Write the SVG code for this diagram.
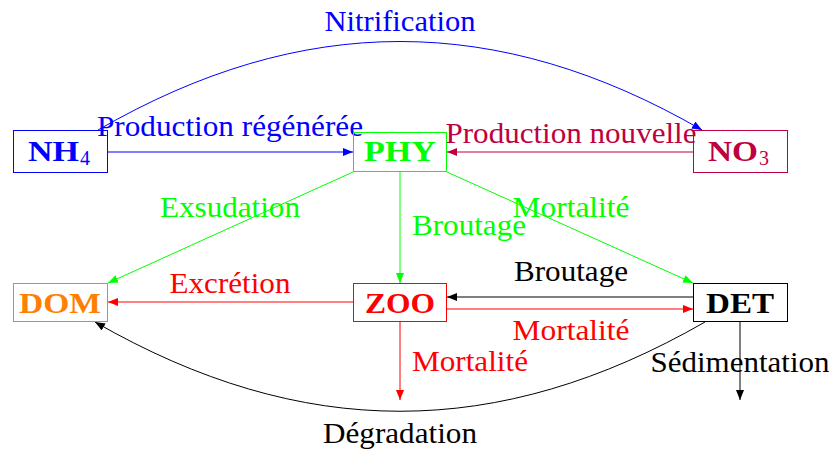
<svg xmlns="http://www.w3.org/2000/svg" width="829" height="451" viewBox="0 0 829 451">
<defs>
<style>
text{font-family:"Liberation Serif","Times New Roman",serif;font-size:29px}
.lbl{text-anchor:middle}
.nd{font-weight:bold}
.box{fill:none;stroke-width:1}
.ln{fill:none;stroke-width:1}
</style>
<marker id="aB" viewBox="0 0 10 8" refX="10" refY="4" markerWidth="10" markerHeight="8" markerUnits="userSpaceOnUse" orient="auto"><path d="M0,0L10,4L0,8z" fill="#0000FF"/></marker>
<marker id="aP" viewBox="0 0 10 8" refX="10" refY="4" markerWidth="10" markerHeight="8" markerUnits="userSpaceOnUse" orient="auto"><path d="M0,0L10,4L0,8z" fill="#BF0040"/></marker>
<marker id="aG" viewBox="0 0 10 8" refX="10" refY="4" markerWidth="10" markerHeight="8" markerUnits="userSpaceOnUse" orient="auto"><path d="M0,0L10,4L0,8z" fill="#00FF00"/></marker>
<marker id="aR" viewBox="0 0 10 8" refX="10" refY="4" markerWidth="10" markerHeight="8" markerUnits="userSpaceOnUse" orient="auto"><path d="M0,0L10,4L0,8z" fill="#FF0000"/></marker>
<marker id="aK" viewBox="0 0 10 8" refX="10" refY="4" markerWidth="10" markerHeight="8" markerUnits="userSpaceOnUse" orient="auto"><path d="M0,0L10,4L0,8z" fill="#000"/></marker>
</defs>
<rect width="829" height="451" fill="#fff"/>
<g id="connectors">
<path class="ln" stroke="#0000FF" d="M98,130C302,12 498,12 702,130" marker-end="url(#aB)"/>
<path class="ln" stroke="#0000FF" d="M108,152H353" marker-end="url(#aB)"/>
<path class="ln" stroke="#BF0040" d="M693,152H447" marker-end="url(#aP)"/>
<path class="ln" stroke="#00FF00" d="M353,172L108,283" marker-end="url(#aG)"/>
<path class="ln" stroke="#00FF00" d="M400,172V283" marker-end="url(#aG)"/>
<path class="ln" stroke="#00FF00" d="M447,172L693,283" marker-end="url(#aG)"/>
<path class="ln" stroke="#FF0000" d="M353,302H108" marker-end="url(#aR)"/>
<path class="ln" stroke="#000" d="M693,297H447" marker-end="url(#aK)"/>
<path class="ln" stroke="#FF0000" d="M447,309H693" marker-end="url(#aR)"/>
<path class="ln" stroke="#FF0000" d="M400,322V400" marker-end="url(#aR)"/>
<path class="ln" stroke="#000" d="M740,322V400" marker-end="url(#aK)"/>
<path class="ln" stroke="#000" d="M705,322C498,441 302,441 95,322" marker-end="url(#aK)"/>
<text class="lbl" x="400" y="31" fill="#0000FF" textLength="151" lengthAdjust="spacingAndGlyphs">Nitrification</text>
<text class="lbl" x="230" y="136" fill="#0000FF" textLength="266" lengthAdjust="spacingAndGlyphs">Production régénérée</text>
<text class="lbl" x="571" y="143" fill="#BF0040" textLength="251" lengthAdjust="spacingAndGlyphs">Production nouvelle</text>
<text class="lbl" x="230" y="217" fill="#00FF00" textLength="140" lengthAdjust="spacingAndGlyphs">Exsudation</text>
<text x="412" y="235" fill="#00FF00" textLength="114" lengthAdjust="spacingAndGlyphs">Broutage</text>
<text class="lbl" x="571" y="217" fill="#00FF00" textLength="117" lengthAdjust="spacingAndGlyphs">Mortalité</text>
<text class="lbl" x="230" y="293" fill="#FF0000" textLength="121" lengthAdjust="spacingAndGlyphs">Excrétion</text>
<text class="lbl" x="571" y="281" fill="#000" textLength="114" lengthAdjust="spacingAndGlyphs">Broutage</text>
<text class="lbl" x="571" y="340" fill="#FF0000" textLength="117" lengthAdjust="spacingAndGlyphs">Mortalité</text>
<text x="412" y="371" fill="#FF0000" textLength="116" lengthAdjust="spacingAndGlyphs">Mortalité</text>
<text class="lbl" x="740" y="372" fill="#000" textLength="179" lengthAdjust="spacingAndGlyphs">Sédimentation</text>
<text class="lbl" x="400" y="443" fill="#000" textLength="154" lengthAdjust="spacingAndGlyphs">Dégradation</text>
</g>
<g id="NH4">
<rect class="box" x="13.5" y="130.5" width="94" height="42" stroke="#0000FF"/>
<text class="nd" x="28" y="161" fill="#0000FF" textLength="51" lengthAdjust="spacingAndGlyphs">NH</text>
<text x="80" y="165" fill="#0000FF" style="font-size:20px">4</text>
</g>
<g id="PHY">
<rect class="box" x="353.5" y="132.5" width="93" height="39" stroke="#00FF00"/>
<text class="nd lbl" x="400" y="161" fill="#00FF00" textLength="72" lengthAdjust="spacingAndGlyphs">PHY</text>
</g>
<g id="NO3">
<rect class="box" x="693.5" y="130.5" width="94" height="42" stroke="#BF0040"/>
<text class="nd" x="708" y="161" fill="#BF0040" textLength="50" lengthAdjust="spacingAndGlyphs">NO</text>
<text x="759" y="165" fill="#BF0040" style="font-size:20px">3</text>
</g>
<g id="DOM">
<rect class="box" x="13.5" y="283.5" width="94" height="38" stroke="#FF8000"/>
<text class="nd lbl" x="60" y="313" fill="#FF8000" textLength="82" lengthAdjust="spacingAndGlyphs">DOM</text>
</g>
<g id="ZOO">
<rect class="box" x="353.5" y="283.5" width="93" height="38" stroke="#FF0000"/>
<text class="nd lbl" x="400" y="313" fill="#FF0000" textLength="70" lengthAdjust="spacingAndGlyphs">ZOO</text>
</g>
<g id="DET">
<rect class="box" x="693.5" y="283.5" width="94" height="38" stroke="#000"/>
<text class="nd lbl" x="740" y="313" fill="#000" textLength="68" lengthAdjust="spacingAndGlyphs">DET</text>
</g>
</svg>
